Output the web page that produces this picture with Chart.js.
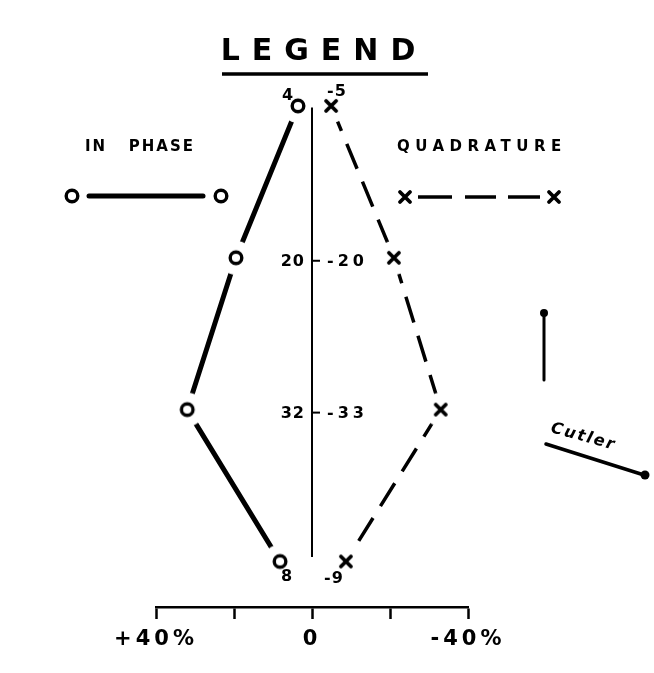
<!DOCTYPE html>
<html>
<head>
<meta charset="utf-8">
<script src="https://cdn.jsdelivr.net/npm/chart.js@4.4.1/dist/chart.umd.min.js"></script>
<style>
  html, body { margin: 0; padding: 0; background: #fff; }
  #wrap { position: relative; width: 654px; height: 673px; }
</style>
</head>
<body>
<div id="wrap"><canvas id="legend-chart"></canvas></div>
<script>
// Vertical stations (0 = top, 3 = bottom)
const levels = [0, 1, 2, 3];
// In phase values, percent (positive plotted to the left)
const inPhase = [3.6, 19.5, 32, 8.2];
// Quadrature values, percent
const quadrature = [-4.9, -21, -33, -8.7];
// Hand written values beside the stations
const leftLabels = ['4', '20', '32', '8'];
const rightLabels = ['-5', '-20', '-33', '-9'];
// Axis tick labels
const xTickValues = [40, 0, -40];
const xTickLabels = ['+40%', '0', '-40%'];

const FONT = '"DejaVu Sans", "Liberation Sans", sans-serif';

// Marker images with a white halo so the lines stop short of each mark
const makeMarker = (kind) => {
  const c = document.createElement('canvas');
  c.width = 36; c.height = 36;
  const g = c.getContext('2d');
  g.fillStyle = '#fff';
  g.beginPath(); g.arc(18, 18, 17, 0, Math.PI * 2); g.fill();
  g.strokeStyle = '#000';
  g.lineCap = 'round';
  if (kind === 'circle') {
    g.lineWidth = 3.4;
    g.beginPath(); g.arc(18, 18, 5.8, 0, Math.PI * 2); g.stroke();
  } else {
    g.lineWidth = 3.8;
    g.beginPath();
    g.moveTo(13, 13); g.lineTo(23, 23);
    g.moveTo(23, 13); g.lineTo(13, 23);
    g.stroke();
  }
  return c;
};
const circleMark = makeMarker('circle');
const crossMark = makeMarker('cross');

const drawCircle = (ctx, x, y) => {
  ctx.beginPath(); ctx.lineWidth = 3.4; ctx.strokeStyle = '#000';
  ctx.arc(x, y, 5.8, 0, Math.PI * 2); ctx.stroke();
};
const drawCross = (ctx, x, y) => {
  ctx.beginPath(); ctx.lineWidth = 3.8; ctx.lineCap = 'round'; ctx.strokeStyle = '#000';
  ctx.moveTo(x - 5, y - 5); ctx.lineTo(x + 5, y + 5);
  ctx.moveTo(x + 5, y - 5); ctx.lineTo(x - 5, y + 5);
  ctx.stroke();
};

const annotations = {
  id: 'annotations',
  beforeDraw(c) {
    c.ctx.letterSpacing = '4px';
  },
  afterDraw(c) {
    const ctx = c.ctx;
    const xs = c.scales.x;
    const ys = c.scales.y;
    const x0 = xs.getPixelForValue(0);
    ctx.save();
    ctx.fillStyle = '#000';
    ctx.strokeStyle = '#000';

    // Station labels
    ctx.font = 'bold 16px ' + FONT;
    ctx.letterSpacing = '1px';
    ctx.textBaseline = 'middle';
    levels.forEach((lv, i) => {
      const yp = ys.getPixelForValue(lv);
      if (i === 0) {
        ctx.textAlign = 'center';
        ctx.fillText(leftLabels[i], x0 - 24, yp - 10);
        ctx.fillText(rightLabels[i], x0 + 25, yp - 14);
      } else if (i === levels.length - 1) {
        ctx.textAlign = 'center';
        ctx.fillText(leftLabels[i], x0 - 25, yp + 15);
        ctx.fillText(rightLabels[i], x0 + 22, yp + 17);
      } else {
        ctx.textAlign = 'right';
        ctx.fillText(leftLabels[i], x0 - 7, yp + 4);
        ctx.beginPath(); ctx.lineWidth = 2;
        ctx.moveTo(x0, yp + 3); ctx.lineTo(x0 + 8, yp + 3); ctx.stroke();
        ctx.textAlign = 'left';
        ctx.letterSpacing = '4px';
        ctx.fillText(rightLabels[i], x0 + 15, yp + 4);
        ctx.letterSpacing = '1px';
      }
    });

    // Legend title
    ctx.textAlign = 'center';
    ctx.textBaseline = 'alphabetic';
    ctx.font = 'bold 30px ' + FONT;
    ctx.letterSpacing = '12px';
    ctx.fillText('LEGEND', 324, 60);
    ctx.beginPath(); ctx.lineWidth = 3.5;
    ctx.moveTo(222, 74); ctx.lineTo(428, 74); ctx.stroke();

    // Legend entries
    ctx.font = 'bold 15px ' + FONT;
    ctx.letterSpacing = '2px';
    ctx.textAlign = 'left';
    ctx.fillText('IN   PHASE', 85, 151);
    ctx.letterSpacing = '5.5px';
    ctx.fillText('QUADRATURE', 397, 151);

    drawCircle(ctx, 72, 196);
    ctx.beginPath(); ctx.lineWidth = 5; ctx.lineCap = 'round';
    ctx.moveTo(89, 196); ctx.lineTo(203, 196); ctx.stroke();
    drawCircle(ctx, 221, 196);

    drawCross(ctx, 405, 197);
    ctx.lineWidth = 3.5; ctx.lineCap = 'butt';
    [[418, 452], [465, 496], [508, 540]].forEach(([a, b]) => {
      ctx.beginPath(); ctx.moveTo(a, 197); ctx.lineTo(b, 197); ctx.stroke();
    });
    drawCross(ctx, 554, 197);

    // Direction arrow
    ctx.beginPath(); ctx.lineWidth = 3; ctx.lineCap = 'round';
    ctx.moveTo(544, 314); ctx.lineTo(544, 380); ctx.stroke();
    ctx.beginPath(); ctx.arc(544, 313, 4, 0, Math.PI * 2); ctx.fill();

    // Cutler label and line
    ctx.save();
    ctx.translate(550, 432);
    ctx.rotate(0.27);
    ctx.font = 'bold italic 16px ' + FONT;
    ctx.letterSpacing = '2px';
    ctx.fillText('Cutler', 0, 0);
    ctx.restore();
    ctx.beginPath(); ctx.lineWidth = 3.5;
    ctx.moveTo(546, 444); ctx.lineTo(644, 475); ctx.stroke();
    ctx.beginPath(); ctx.arc(645, 475, 4.5, 0, Math.PI * 2); ctx.fill();

    ctx.restore();
    ctx.letterSpacing = '0px';
  },
};

new Chart(document.getElementById('legend-chart'), {
  type: 'scatter',
  data: {
    datasets: [
      {
        label: 'IN PHASE',
        data: levels.map((lv, i) => ({ x: inPhase[i], y: lv })),
        showLine: true,
        borderColor: '#000',
        borderWidth: 5,
        pointStyle: circleMark,
        pointRadius: 18,
        order: 1,
      },
      {
        label: 'QUADRATURE',
        data: levels.map((lv, i) => ({ x: quadrature[i], y: lv })),
        showLine: true,
        borderColor: '#000',
        borderWidth: 3.5,
        borderDash: [27, 14],
        pointStyle: crossMark,
        pointRadius: 18,
        order: 1,
      },
      {
        label: 'zero',
        data: [{ x: 0, y: levels[0] + 0.01 }, { x: 0, y: levels[levels.length - 1] - 0.03 }],
        showLine: true,
        borderColor: '#000',
        borderWidth: 2,
        pointRadius: 0,
        order: 0,
      },
    ],
  },
  options: {
    responsive: true,
    maintainAspectRatio: false,
    animation: false,
    events: [],
    layout: {
      padding: { top: 30, left: 156, right: 186, bottom: 0 },
    },
    scales: {
      x: {
        type: 'linear',
        reverse: true,
        min: -40,
        max: 40,
        afterFit: (s) => { s.height = 66; },
        border: { display: true, color: '#000', width: 2.5 },
        grid: {
          drawOnChartArea: false,
          drawTicks: true,
          tickLength: 12,
          tickColor: '#000',
          tickWidth: 2.5,
        },
        ticks: {
          stepSize: 20,
          padding: 8,
          color: '#000',
          font: { family: FONT, size: 21, weight: 'bold' },
          callback: (v) => {
            const k = xTickValues.indexOf(v);
            return k >= 0 ? xTickLabels[k] : '';
          },
        },
      },
      y: {
        type: 'linear',
        display: false,
        reverse: true,
        min: -0.5,
        max: 3.3,
      },
    },
    plugins: {
      legend: { display: false },
      tooltip: { enabled: false },
    },
  },
  plugins: [annotations],
});
</script>
</body>
</html>
